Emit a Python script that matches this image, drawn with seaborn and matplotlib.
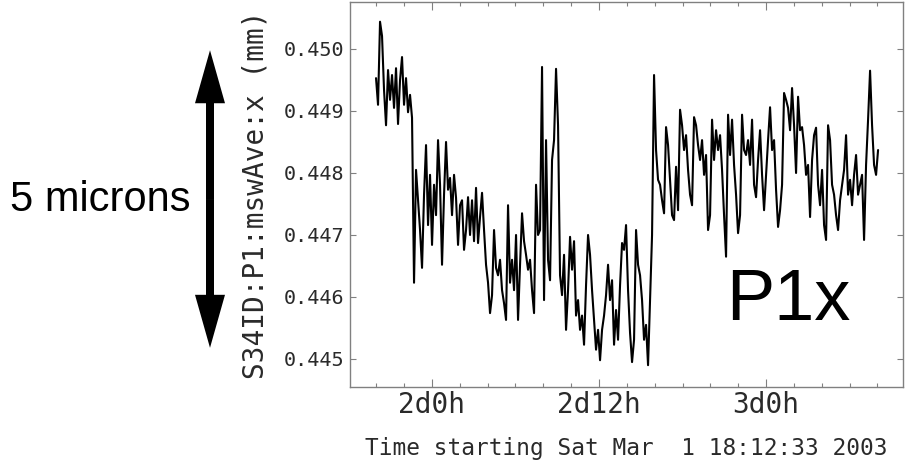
import numpy as np
import pandas as pd
import matplotlib
matplotlib.use("Agg")
import matplotlib.pyplot as plt
import matplotlib.ticker as mticker
import matplotlib.transforms as mtransforms
from matplotlib.patches import FancyArrow
import seaborn as sns

# ====== DATA ======
# P1x position readback (mm), sampled every ~8.6 minutes
p1x_mm = [
    # high plateau before the first step
    0.44953, 0.44910, 0.45044, 0.45021, 0.44934, 0.44877, 0.44966, 0.44918, 0.44958, 0.44905,
    0.44969, 0.44879, 0.44950, 0.44987, 0.44910, 0.44953, 0.44898, 0.44926,
    # drop
    0.44889, 0.44623, 0.44805, 0.44756, 0.44708, 0.44647, 0.44765, 0.44845, 0.44716, 0.44797,
    0.44684, 0.44781, 0.44732, 0.44853, 0.44781, 0.44652, 0.44765, 0.44850, 0.44773, 0.44792,
    0.44732, 0.44797, 0.44760, 0.44684, 0.44748,
    0.44756, 0.44676, 0.44708, 0.44761, 0.44700, 0.44756, 0.44690, 0.44776, 0.44687, 0.44729,
    0.44768, 0.44708, 0.44652, 0.44623, 0.44574, 0.44603, 0.44708, 0.44647, 0.44635, 0.44660,
    0.44611, 0.44590, 0.44563, 0.44748, 0.44623, 0.44660, 0.44611, 0.44700, 0.44563, 0.44652,
    0.44735, 0.44690, 0.44668, 0.44644, 0.44660, 0.44611, 0.44574, 0.44781, 0.44700, 0.44708,
    # two spikes, then the low stretch
    0.44971, 0.44595, 0.44853, 0.44660, 0.44627, 0.44821, 0.44853, 0.44968, 0.44877, 0.44635,
    0.44603, 0.44668, 0.44547, 0.44611, 0.44697, 0.44644, 0.44690, 0.44570, 0.44595, 0.44547,
    0.44570, 0.44523, 0.44619, 0.44700, 0.44668, 0.44611, 0.44563, 0.44515, 0.44547, 0.44498,
    0.44547, 0.44570, 0.44603, 0.44652, 0.44595, 0.44627, 0.44523, 0.44579, 0.44531, 0.44619,
    0.44687, 0.44676, 0.44716, 0.44611,
    0.44542, 0.44495, 0.44531, 0.44708, 0.44652, 0.44635, 0.44595, 0.44531, 0.44555, 0.44490,
    # jump back up
    0.44595, 0.44700, 0.44958, 0.44837, 0.44789, 0.44781, 0.44756, 0.44735, 0.44874, 0.44845,
    0.44789, 0.44732, 0.44724, 0.44810, 0.44740, 0.44902, 0.44877, 0.44837, 0.44861, 0.44805,
    0.44765, 0.44748, 0.44890, 0.44877, 0.44845, 0.44821, 0.44853, 0.44797, 0.44829, 0.44708,
    0.44732, 0.44886, 0.44821,
    0.44869, 0.44837, 0.44861, 0.44805, 0.44732, 0.44665, 0.44894, 0.44829, 0.44886, 0.44813,
    0.44765, 0.44703, 0.44732, 0.44894, 0.44837, 0.44829, 0.44853, 0.44813, 0.44886, 0.44781,
    0.44761, 0.44821, 0.44869, 0.44797, 0.44740, 0.44797, 0.44853, 0.44906, 0.44837, 0.44853,
    0.44773, 0.44713, 0.44740, 0.44781, 0.44929, 0.44918, 0.44905, 0.44869, 0.44937, 0.44877,
    0.44800, 0.44923,
    0.44869, 0.44874, 0.44845, 0.44797, 0.44813, 0.44729, 0.44821, 0.44861, 0.44873, 0.44781,
    0.44748, 0.44805, 0.44716, 0.44692, 0.44877, 0.44853, 0.44781, 0.44765, 0.44732, 0.44708,
    0.44756, 0.44781, 0.44805, 0.44861, 0.44765, 0.44789, 0.44748, 0.44797, 0.44829, 0.44765,
    0.44781, 0.44797, 0.44692, 0.44813, 0.44886, 0.44965, 0.44877, 0.44813, 0.44797, 0.44837,
]
sample_start_h = 43.98   # hours on the time axis
sample_step_h = 0.1437

major_hours = [48, 60, 72]
major_labels = ["2d0h", "2d12h", "3d0h"]
minor_hours = [44, 46, 50, 52, 54, 56, 58, 62, 64, 66, 68, 70, 74, 76, 78, 80]
y_ticks = [0.445, 0.446, 0.447, 0.448, 0.449, 0.450]

x_label = "Time starting Sat Mar  1 18:12:33 2003"
y_label = "S34ID:P1:mswAve:x (mm)"
scale_label = "5 microns"
scale_top_mm = 0.44998
scale_bottom_mm = 0.44518
tag_label = "P1x"

# ====== STYLE ======
sns.set_theme(style="ticks")
plt.rcParams["font.family"] = ["DejaVu Sans Mono", "DejaVu Sans"]
mono = "DejaVu Sans Mono"
text_col = "#2a2a2a"
spine_gray = "#808080"

fig = plt.figure(figsize=(9.05, 4.66), dpi=100)
ax = fig.add_axes([350 / 905, 1 - 387 / 466, 553 / 905, 385 / 466])

df = pd.DataFrame({
    "hours": sample_start_h + sample_step_h * np.arange(len(p1x_mm)),
    "p1x": p1x_mm,
})
sns.lineplot(data=df, x="hours", y="p1x", color="black", linewidth=1.5,
             estimator=None, sort=False, ax=ax)

ax.set_xlim(42.11, 81.84)
ax.set_ylim(0.444548, 0.450758)

ax.xaxis.set_major_locator(mticker.FixedLocator(major_hours))
ax.xaxis.set_major_formatter(mticker.FixedFormatter(major_labels))
ax.xaxis.set_minor_locator(mticker.FixedLocator(minor_hours))
ax.yaxis.set_major_locator(mticker.FixedLocator(y_ticks))
ax.yaxis.set_major_formatter(mticker.FormatStrFormatter("%.3f"))

ax.tick_params(which="both", direction="in", top=True, right=True,
               color=spine_gray, width=0.8, labelcolor=text_col)
ax.tick_params(axis="x", which="major", length=5.8, pad=3, labelsize=20)
ax.tick_params(axis="x", which="minor", length=2.9)
ax.tick_params(axis="y", which="major", length=4.3, pad=4, labelsize=14.5)
for lab in ax.get_xticklabels() + ax.get_yticklabels():
    lab.set_family(mono)

for sp in ax.spines.values():
    sp.set_color(spine_gray)
    sp.set_linewidth(1.0)

ax.set_xlabel(x_label, fontsize=16.4, labelpad=13, family=mono, color=text_col)
ax.set_ylabel(y_label, fontsize=20, labelpad=10, family=mono, color=text_col)

# big tag inside the plot
ax.text(0.680, 0.174, tag_label, transform=ax.transAxes, ha="left", va="baseline",
        fontsize=52, family="Liberation Sans", color="black")

# scale bar: double arrow on the left, spanning the 5 micron range
trans = mtransforms.blended_transform_factory(fig.transFigure, ax.transData)
y_mid = (scale_top_mm + scale_bottom_mm) / 2
half = (scale_top_mm - scale_bottom_mm) / 2
for sign in (1, -1):
    fig.add_artist(FancyArrow(210 / 905, y_mid, 0, sign * half,
                              width=8 / 905, head_width=30 / 905,
                              head_length=0.000855, length_includes_head=True,
                              transform=trans, color="black", lw=0))
fig.text(10 / 905, 1 - 200 / 466, scale_label, ha="left", va="center",
         fontsize=30, family="Liberation Sans", color="black")

fig.savefig("out.png", dpi=100, facecolor="white")
